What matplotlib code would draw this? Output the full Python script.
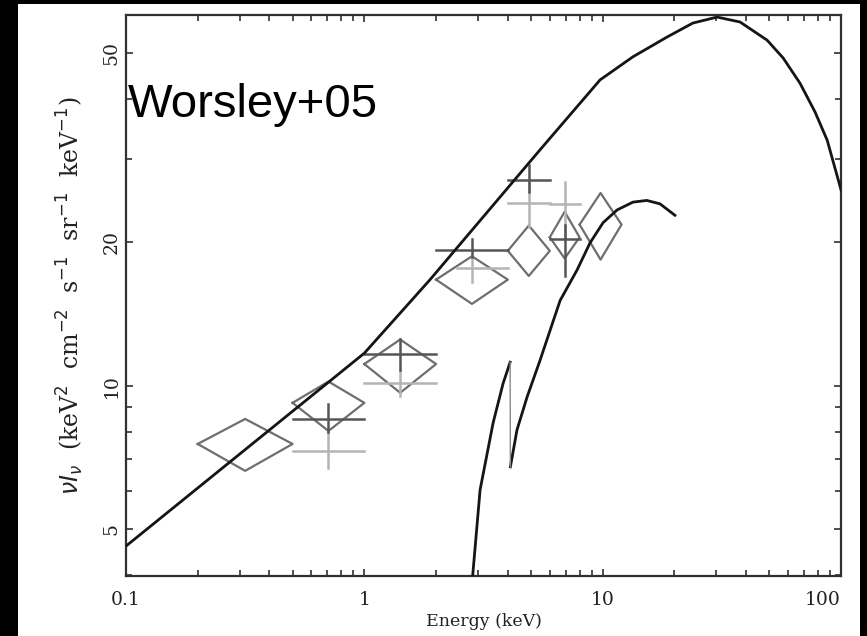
import matplotlib
matplotlib.use("Agg")
import matplotlib.pyplot as plt
from matplotlib.patches import Rectangle
from matplotlib.ticker import FixedLocator, NullFormatter, FixedFormatter

# ---- model curve 1 (total model) ----
model_E = [0.1, 1.0, 1.887, 5.46, 9.75, 13.4, 15.8, 18.6, 23.9, 30.2, 37.7, 49.0, 57.2, 67.3, 77.8, 87.5, 100.0]
model_V = [4.6, 11.7, 16.7, 31.3, 43.9, 49.1, 51.5, 54.0, 57.8, 59.5, 58.1, 53.2, 48.8, 43.2, 37.6, 32.8, 25.8]

# ---- model curve 2 (second component), in two pieces around the edge ----
comp_a_E = [2.75, 2.85, 3.06, 3.47, 3.82, 4.09]
comp_a_V = [3.6, 4.0, 6.04, 8.35, 10.1, 11.2]
comp_b_E = [4.1, 4.37, 4.82, 5.46, 6.63, 7.81, 8.85, 10.04, 11.5, 13.4, 15.3, 17.4, 20.1]
comp_b_V = [6.75, 8.07, 9.47, 11.3, 15.1, 17.5, 19.95, 22.0, 23.4, 24.3, 24.5, 24.1, 22.8]

# ---- diamonds: energy bins and flux with errors ----
dia_Elo = [0.2, 0.5, 1.0, 2.0, 4.0, 6.0, 8.0]
dia_Ehi = [0.5, 1.0, 2.0, 4.0, 6.0, 8.0, 12.0]
dia_V = [7.54, 9.2, 11.1, 16.7, 19.2, 20.5, 21.8]
dia_Vlo = [6.62, 8.03, 9.66, 14.85, 17.0, 18.5, 18.4]
dia_Vhi = [8.51, 10.2, 12.5, 18.7, 21.7, 23.2, 25.4]

# ---- dark crosses ----
dk_E = [0.707, 1.41, 2.83, 4.9, 6.93]
dk_Elo = [0.5, 1.0, 2.0, 4.0, 6.0]
dk_Ehi = [1.0, 2.0, 4.0, 6.0, 8.0]
dk_V = [8.51, 11.66, 19.3, 27.0, 20.3]
dk_Vlo = [8.0, 10.8, 18.6, 25.5, 17.0]
dk_Vhi = [9.15, 12.5, 20.3, 29.1, 21.8]

# ---- light crosses ----
lt_E = [0.707, 1.41, 2.83, 4.9, 6.93]
lt_Elo = [0.5, 1.0, 2.45, 4.0, 6.0]
lt_Ehi = [1.0, 2.0, 4.0, 6.0, 8.0]
lt_V = [7.29, 10.13, 17.7, 24.2, 24.1]
lt_Vlo = [6.71, 9.5, 16.5, 21.5, 20.3]
lt_Vhi = [8.0, 10.8, 18.6, 26.7, 26.8]

x_ticks = [0.1, 1, 10, 100]
x_ticklabels = ["0.1", "1", "10", "100"]
y_ticks = [5, 10, 20, 50]
y_ticklabels = ["5", "10", "20", "50"]

fig = plt.figure(figsize=(8.67, 6.36), dpi=100, facecolor="black")
fig.patches.append(Rectangle((18 / 867, 0), (860 - 18) / 867, (636 - 4) / 636,
                             transform=fig.transFigure, facecolor="white",
                             edgecolor="none", zorder=-10))
ax = fig.add_axes([126 / 867, 1 - 576 / 636, 715 / 867, 561 / 636])
ax.set_zorder(5)
ax.set_xscale("log")
ax.set_yscale("log")
ax.set_xlim(0.1, 100)
ax.set_ylim(3.98, 60.1)

dia_col = "#6e6e6e"
for elo, ehi, v, vlo, vhi in zip(dia_Elo, dia_Ehi, dia_V, dia_Vlo, dia_Vhi):
    ec = (elo * ehi) ** 0.5
    ax.plot([elo, ec, ehi, ec, elo], [v, vhi, v, vlo, v], color=dia_col, lw=1.6, zorder=2)

for ec, elo, ehi, v, vlo, vhi in zip(lt_E, lt_Elo, lt_Ehi, lt_V, lt_Vlo, lt_Vhi):
    ax.plot([elo, ehi], [v, v], color="#b4b4b4", lw=1.8, zorder=2)
    ax.plot([ec, ec], [vlo, vhi], color="#b4b4b4", lw=1.8, zorder=2)

for ec, elo, ehi, v, vlo, vhi in zip(dk_E, dk_Elo, dk_Ehi, dk_V, dk_Vlo, dk_Vhi):
    ax.plot([elo, ehi], [v, v], color="#555555", lw=1.8, zorder=3)
    ax.plot([ec, ec], [vlo, vhi], color="#555555", lw=1.8, zorder=3)

ax.plot(model_E, model_V, color="#151515", lw=2.0, zorder=4)
ax.plot(comp_a_E, comp_a_V, color="#151515", lw=2.0, zorder=4)
ax.plot(comp_b_E, comp_b_V, color="#151515", lw=2.0, zorder=4)
ax.plot([comp_a_E[-1], comp_b_E[0]], [comp_a_V[-1], comp_b_V[0]], color="#888888", lw=1.0, zorder=4)

for s in ax.spines.values():
    s.set_linewidth(1.6)
    s.set_color("#303030")

ax.xaxis.set_major_locator(FixedLocator(x_ticks))
ax.xaxis.set_major_formatter(FixedFormatter(x_ticklabels))
ax.xaxis.set_minor_locator(FixedLocator([m * d for d in [0.1, 1, 10] for m in range(2, 10)]))
ax.xaxis.set_minor_formatter(NullFormatter())
ax.yaxis.set_major_locator(FixedLocator(y_ticks))
ax.yaxis.set_major_formatter(FixedFormatter(y_ticklabels))
ax.yaxis.set_minor_locator(FixedLocator([4, 6, 7, 8, 9, 30, 40]))
ax.yaxis.set_minor_formatter(NullFormatter())
ax.tick_params(which="both", direction="in", top=True, right=True, color="#303030", width=1.2)
ax.tick_params(which="major", length=5, labelsize=13.5)
ax.tick_params(axis="x", which="major", pad=11)
ax.tick_params(axis="y", which="major", pad=4)
ax.tick_params(which="minor", length=4)
xlabs = ax.get_xticklabels()
for lab in xlabs:
    lab.set_family("DejaVu Serif")
    lab.set_color("#222222")
xlabs[-1].set_horizontalalignment("right")
for lab in ax.get_yticklabels():
    lab.set_family("DejaVu Serif")
    lab.set_rotation(90)
    lab.set_va("center")
    lab.set_color("#222222")

ax.set_xlabel("Energy (keV)", family="DejaVu Serif", fontsize=12.5, color="#222222", labelpad=3)
ax.set_ylabel(r"$\nu I_\nu$  (keV$^2$  cm$^{-2}$  s$^{-1}$  sr$^{-1}$  keV$^{-1}$)",
              family="DejaVu Serif", fontsize=17, color="#222222", labelpad=12)

ax.text(0.003, 0.818, "Worsley+05", transform=ax.transAxes, family="Liberation Sans",
        fontsize=34, color="black", va="baseline", ha="left", zorder=5)

fig.savefig("out.png", dpi=100, facecolor="black")
